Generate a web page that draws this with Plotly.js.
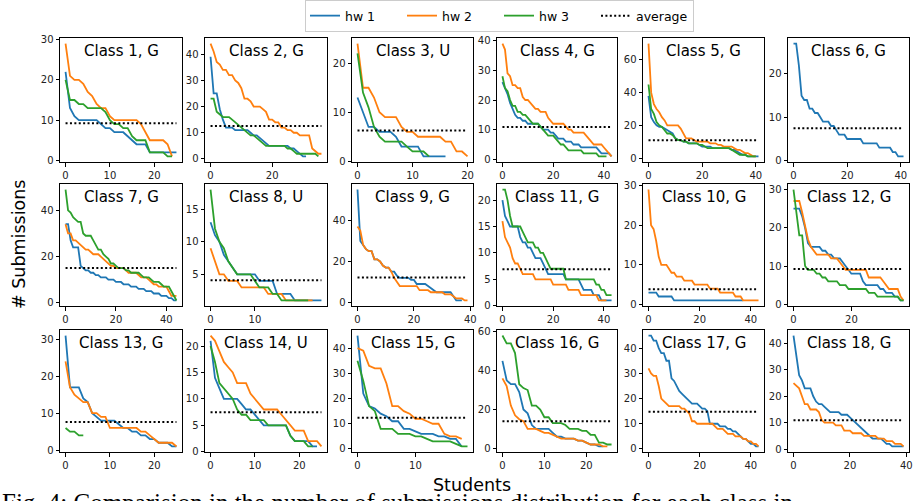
<!DOCTYPE html>
<html><head><meta charset="utf-8">
<script src="https://cdn.plot.ly/plotly-3.0.1.min.js"></script>
<style>html,body{margin:0;padding:0;background:#fff}#chart{width:914px;height:501px}</style>
</head><body><div id="chart"></div>
<script>
// ---------- data ----------
const classNames = ["Class 1, G","Class 2, G","Class 3, U","Class 4, G","Class 5, G","Class 6, G",
  "Class 7, G","Class 8, U","Class 9, G","Class 11, G","Class 10, G","Class 12, G",
  "Class 13, G","Class 14, U","Class 15, G","Class 16, G","Class 17, G","Class 18, G"];
const seriesNames = ["hw 1","hw 2","hw 3"];
const averages = [9.2,12.6,6.3,10.9,10.9,7.5, 15.0,4.1,12.2,6.9,3.8,9.2, 7.6,7.5,12.4,13.9,14.8,10.9];

const c1_hw1 = [22,13,11,10,10,10,10,10,9,8,8,7,7,7,6,5,4,4,4,2,2,2,2,2,2,2];
const c1_hw2 = [29,21,20,20,19,17,16,14,13,13,11,10,10,10,10,10,10,9,7,5,5,5,5,4,1];
const c1_hw3 = [20,15,15,14,14,13,13,13,13,12,10,9,9,8,8,6,5,5,5,2,2,2,2,1,1];

const c2_hw1 = [39,25,25,19,15,12,12,12,11,11,11,11,11,10,9,9,8,7,6,5,5,5,5,5,5,5,4,4,3,2,1,1];
const c2_hw2 = [44,41,37,36,34,34,32,32,30,29,27,23,23,22,20,20,20,19,18,15,15,14,14,12,12,11,11,10,10,9,9,9,9,4,3,2,2];
const c2_hw3 = [23,23,18,17,16,16,16,15,14,13,12,11,10,9,9,8,7,6,5,5,5,5,5,5,5,4,4,3,2,2,2,2,2,2,2,1];

const c3_hw1 = [13,10,7,7,6,6,6,5,3,3,3,3,1,1,1,1,1];
const c3_hw2 = [24,15,15,13,10,9,9,9,7,6,6,5,5,5,5,5,4,4,2,2,1];
const c3_hw3 = [22,14,11,7,5,4,4,4,4,3,2,2,2,1];

const c4_hw1 = [26,24,22,19,17,15,14,14,13,13,12,12,12,12,12,11,10,10,10,9,9,8,7,7,7,6,6,6,5,5,5,4,4,4,4,4,4,4,3,2,2,2,2,1];
const c4_hw2 = [39,37,29,28,25,25,24,24,21,20,20,19,18,17,17,16,16,16,14,13,12,12,12,12,12,11,10,10,9,9,9,9,9,8,7,6,5,5,5,5,4,3,2,1];
const c4_hw3 = [28,24,23,20,18,18,16,16,15,15,14,13,12,12,12,11,10,9,8,8,8,7,6,5,5,4,3,3,3,3,3,3,2,2,2,2,2,2,1,1,1,1];

const c5_hw1 = [38,25,22,20,19,19,18,17,16,15,12,11,11,10,10,9,9,9,9,8,7,7,7,7,6,6,6,6,6,6,6,5,5,4,3,2,2,1,1,1,1,1];
const c5_hw2 = [70,40,33,30,28,25,23,20,20,20,20,20,18,15,12,12,12,11,10,10,10,10,10,9,9,9,8,8,7,7,7,7,6,5,5,4,3,3,2,1,1];
const c5_hw3 = [45,30,27,22,20,19,17,15,15,14,12,11,11,10,10,9,9,9,9,8,8,7,6,6,6,6,6,6,6,6,6,5,4,3,2,2,2,1,1,1,1];

const c6_hw1 = [27,27,22,15,14,14,12,12,11,11,10,9,9,9,8,8,7,6,6,6,5,5,5,5,5,5,4,4,4,4,4,4,3,3,3,3,3,2,2,1,1,1];

const c7_hw1 = [34,34,27,24,24,24,16,15,14,14,13,13,12,12,11,11,11,10,10,10,9,9,9,8,8,8,7,7,7,6,6,6,5,5,5,4,4,4,3,3,3,2,2,1,1];
const c7_hw2 = [34,30,30,27,27,26,25,24,23,23,22,21,21,21,20,19,18,17,16,16,15,15,15,15,14,13,13,13,13,12,11,11,11,10,9,8,8,7,7,7,7,5,3,3,3];
const c7_hw3 = [49,40,39,37,36,35,35,30,29,29,29,27,25,23,23,21,20,19,17,17,16,15,15,15,14,14,13,13,13,13,12,11,11,11,10,9,9,9,8,7,7,7,5,3,1];

const c8_hw1 = [13,11,10,8,7,6,5,5,5,5,5,4,4,4,4,2,2,2,2,1,1,1,1,1,1,1];
const c8_hw2 = [9,7,5,5,4,4,4,3,3,3,3,3,3,2,2,2,2,1,1,1,1,1,1,1];
const c8_hw3 = [18,12,10,9,7,6,5,5,5,5,4,3,3,3,2,2,1,1,1,1,1,1,1];

const c9_hw1 = [55,30,28,26,25,25,21,21,20,18,17,17,15,15,13,12,12,12,12,11,11,9,9,9,9,8,7,6,5,5,5,5,5,5,3,1,1,1];
const c9_hw2 = [37,35,28,26,25,25,21,21,20,18,17,17,15,12,10,8,8,8,8,8,8,8,6,6,6,6,5,5,5,5,5,4,4,4,3,2,2,2,1,1];

const c11_hw1 = [20,17,16,15,15,15,15,13,12,12,11,11,10,9,9,9,8,7,6,6,6,6,6,6,6,5,5,5,5,5,5,4,3,3,3,3,2,2,2,1,1,1,1,1];
const c11_hw2 = [16,13,12,11,9,8,8,7,6,6,6,6,6,5,5,5,5,5,5,5,4,4,4,4,4,4,3,3,3,3,3,2,2,2,2,2,2,2,1,1,1,1];
const c11_hw3 = [22,22,20,17,15,15,15,15,14,13,12,12,12,11,11,10,10,9,8,7,7,7,7,7,7,5,5,5,5,5,5,5,5,5,5,5,5,4,4,3,3,2,2,2];

const c10_hw1 = [3,3,3,3,2,2,2,2,2,2,1,1,1,1,1,1,1,1,1,1,1,1,1,1,1,1,1,1,1,1,1,1,1,1,1,1,1,1];
const c10_hw2 = [29,20,19,16,12,10,10,10,9,8,8,7,7,7,6,6,6,6,5,5,5,5,5,5,4,4,4,4,3,3,3,3,3,3,2,2,2,1,1,1,1,1,1,1];

const c12_hw1 = [25,25,25,23,20,16,15,15,15,15,14,14,13,13,12,12,12,11,10,9,8,8,8,8,6,5,5,5,5,5,4,4,3,3,3,2,2,1,1];
const c12_hw2 = [27,27,27,24,20,17,15,14,13,13,13,13,13,12,12,12,11,10,9,9,9,9,9,9,9,9,7,7,7,7,7,6,5,4,4,4,4,2,1];
const c12_hw3 = [30,24,18,18,10,9,9,9,8,8,7,7,6,6,6,6,5,5,5,4,4,4,4,4,4,4,3,3,3,2,2,2,2,2,2,2,2,1,1];

const c13_hw1 = [31,17,17,17,14,13,10,9,8,8,8,8,7,6,6,5,5,4,4,3,3,2,2,2,1,1];
const c13_hw2 = [24,17,15,14,13,13,10,10,9,9,6,6,6,6,6,6,6,5,5,4,3,2,2,2,2,1];
const c13_hw3 = [6,5,5,4,4];

const c14_hw1 = [21,14,12,10,10,10,10,9,8,8,7,6,5,5,5,5,5,5,3,2,2,2,2,1,1];
const c14_hw2 = [22,21,19,17,16,15,13,13,13,11,10,9,8,8,8,8,7,6,5,4,4,4,2,2,2,1];
const c14_hw3 = [20,17,13,12,11,10,8,7,7,6,6,6,6,5,5,5,5,5,3,2,2,2,1,1];

const c15_hw1 = [45,22,17,16,14,13,11,11,8,8,7,6,6,6,5,5,4,4,1];
const c15_hw2 = [40,39,33,32,32,26,17,17,15,14,12,12,11,10,10,6,5,5,4];
const c15_hw3 = [35,27,17,15,8,8,8,6,6,6,5,5,4,3,3,3,3,2,1,1];

const c16_hw1 = [45,35,33,33,29,20,18,12,10,10,10,10,8,6,6,5,5,5,4,4,3,2,2,1,1];
const c16_hw2 = [36,32,22,17,15,14,10,10,10,9,8,8,7,6,5,5,5,5,4,4,3,2,2,2,1,1];
const c16_hw3 = [58,54,54,49,33,31,30,22,22,20,16,16,13,13,13,12,10,10,10,9,9,7,7,3,3,2,2];

const c17_hw1 = [45,45,43,43,40,38,38,35,35,28,27,25,23,22,21,20,19,18,18,18,17,16,16,15,10,10,10,10,9,9,9,8,8,7,7,6,5,4,4,3,2,2,1,1];
const c17_hw2 = [32,30,29,29,25,20,19,18,17,17,17,17,17,16,16,15,14,11,11,10,10,10,10,10,10,10,9,8,8,8,7,6,6,6,5,5,5,4,4,3,3,2,2,1];

const c18_hw1 = [43,36,28,26,23,23,23,20,18,17,17,16,15,14,14,14,14,13,13,13,12,11,10,9,8,7,6,5,4,4,4,4,3,2,2,1,1,1,1,1];
const c18_hw2 = [25,24,23,20,17,17,15,15,15,14,11,10,10,10,10,9,9,9,7,7,7,6,6,6,6,5,5,5,5,5,4,4,4,3,3,3,2,2,2,1];

const xTicks = [[0,10,20],[0,20],[0,10,20],[0,20,40],[0,20,40],[0,20,40],
  [0,20,40],[0,10],[0,20,40],[0,20,40],[0,20,40],[0,20],
  [0,10,20],[0,10,20],[0,10],[0,10,20],[0,20,40],[0,20,40]];
const yTicks = [[0,10,20,30],[0,10,20,30,40],[0,10,20],[0,10,20,30,40],[0,20,40,60],[0,10,20],
  [0,20,40],[5,10,15],[0,20,40],[0,5,10,15,20],[0,10,20,30],[0,10,20,30],
  [0,10,20,30],[0,5,10,15,20],[0,10,20,30,40],[0,20,40,60],[0,10,20,30,40],[0,10,20,30,40]];

const panelSeries = [
  [c1_hw1,c1_hw2,c1_hw3],[c2_hw1,c2_hw2,c2_hw3],[c3_hw1,c3_hw2,c3_hw3],
  [c4_hw1,c4_hw2,c4_hw3],[c5_hw1,c5_hw2,c5_hw3],[c6_hw1,null,null],
  [c7_hw1,c7_hw2,c7_hw3],[c8_hw1,c8_hw2,c8_hw3],[c9_hw1,c9_hw2,null],
  [c11_hw1,c11_hw2,c11_hw3],[c10_hw1,c10_hw2,null],[c12_hw1,c12_hw2,c12_hw3],
  [c13_hw1,c13_hw2,c13_hw3],[c14_hw1,c14_hw2,c14_hw3],[c15_hw1,c15_hw2,c15_hw3],
  [c16_hw1,c16_hw2,c16_hw3],[c17_hw1,c17_hw2,null],[c18_hw1,c18_hw2,null]];

// ---------- layout / styling ----------
const W = 914, H = 501;
const colX = [[60,182],[205,327],[352,473],[497,617],[643,764],[788,909]];
const rowY = [[38,162],[184,306],[330,452]];
const colors = ["#1f77b4","#ff7f0e","#2ca02c"];
const FONT = "DejaVu Sans, Arial, sans-serif";

const traces = [];
const layout = {
  width: W, height: H, margin: {l:0,r:0,t:0,b:0},
  paper_bgcolor: "#fff", plot_bgcolor: "#fff",
  font: {family: FONT, color: "#000", size: 10},
  showlegend: true,
  legend: {orientation: "h", x: 499.5/W, xanchor: "center", y: 1, yanchor: "top",
    bordercolor: "#cccccc", borderwidth: 1, bgcolor: "#fff",
    font: {family: FONT, size: 12.5, color: "#000"},
    entrywidth: 52, entrywidthmode: "pixels", itemwidth: 30},
  annotations: [], shapes: []
};

panelSeries.forEach((ser, p) => {
  const r = Math.floor(p / 6), c = p % 6;
  const sfx = p === 0 ? "" : String(p + 1);
  let N = 0, lo = Infinity, hi = -Infinity;
  ser.forEach(s => { if (!s) return; N = Math.max(N, s.length - 1);
    s.forEach(v => { lo = Math.min(lo, v); hi = Math.max(hi, v); }); });
  lo = Math.min(lo, averages[p]); hi = Math.max(hi, averages[p]);
  ser.forEach((s, k) => {
    if (!s) return;
    traces.push({x: s.map((_, i) => i), y: s, type: "scatter", mode: "lines",
      line: {color: colors[k], width: 1.8}, name: seriesNames[k], legendgroup: seriesNames[k],
      showlegend: p === 0, xaxis: "x" + sfx, yaxis: "y" + sfx, hoverinfo: "skip"});
  });
  traces.push({x: [0, N], y: [averages[p], averages[p]], type: "scatter", mode: "lines",
    line: {color: "#000", width: 2, dash: "2px,2.4px"}, name: "average", legendgroup: "average",
    showlegend: p === 0, xaxis: "x" + sfx, yaxis: "y" + sfx, hoverinfo: "skip"});
  const axBase = {showgrid: false, zeroline: false, showline: true, mirror: true,
    linecolor: "#000", linewidth: 1, ticks: "outside", ticklen: 3.5, tickwidth: 1,
    tickcolor: "#000", tickfont: {family: FONT, size: 10, color: "#222"}, fixedrange: true};
  layout["xaxis" + sfx] = Object.assign({}, axBase, {
    domain: [colX[c][0] / W, colX[c][1] / W], anchor: "y" + sfx,
    range: [-0.05 * N, 1.05 * N], tickmode: "array", tickvals: xTicks[p]});
  const span = hi - lo;
  layout["yaxis" + sfx] = Object.assign({}, axBase, {
    domain: [1 - rowY[r][1] / H, 1 - rowY[r][0] / H], anchor: "x" + sfx,
    range: [lo - 0.05 * span, hi + 0.05 * span], tickmode: "array", tickvals: yTicks[p]});
  layout.annotations.push({text: classNames[p], xref: "paper", yref: "paper",
    x: (colX[c][0] + colX[c][1]) / 2 / W, y: 1 - (rowY[r][0] + 13) / H,
    xanchor: "center", yanchor: "middle", showarrow: false,
    font: {family: FONT, size: 15, color: "#000"}});
});

layout.annotations.push({text: "# Submissions", xref: "paper", yref: "paper",
  x: 19 / W, y: 1 - 245 / H, xanchor: "center", yanchor: "middle", textangle: -90,
  showarrow: false, font: {family: FONT, size: 17.5, color: "#000"}});
layout.annotations.push({text: "Students", xref: "paper", yref: "paper",
  x: 472 / W, y: 1 - 485 / H, xanchor: "center", yanchor: "middle",
  showarrow: false, font: {family: FONT, size: 17.5, color: "#000"}});
layout.annotations.push({text: "Fig. 4: Comparision in the number of submissions distribution for each class in",
  xref: "paper", yref: "paper", x: 0, y: 1 - 487 / H, xanchor: "left", yanchor: "top",
  showarrow: false, font: {family: "Liberation Serif, DejaVu Serif, serif", size: 25, color: "#000"}});

Plotly.newPlot("chart", traces, layout, {displayModeBar: false, staticPlot: true});
</script>
</body></html>
